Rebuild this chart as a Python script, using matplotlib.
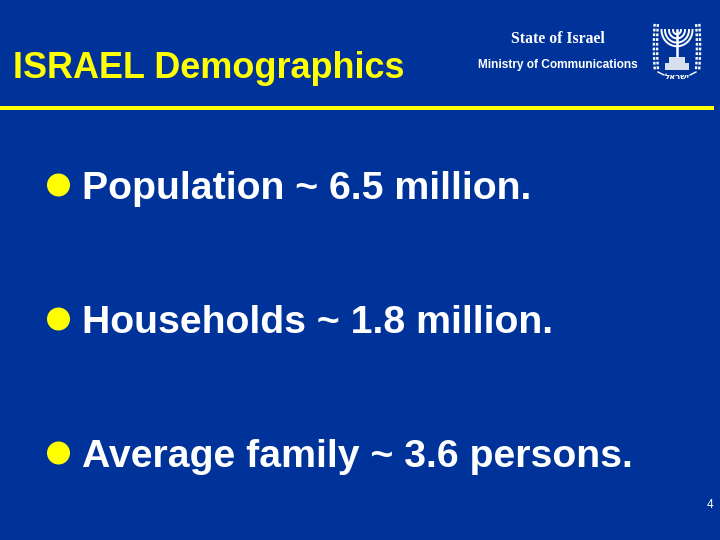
import numpy as np
import matplotlib
matplotlib.use('Agg')
import matplotlib.pyplot as plt
from matplotlib.patches import Circle, Rectangle

title = 'ISRAEL Demographics'
state_label = 'State of Israel'
ministry_label = 'Ministry of Communications'
bullets = ['Population ~ 6.5 million.', 'Households ~ 1.8 million.', 'Average family ~ 3.6 persons.']
page_number = '4'
# drawn left to right by matplotlib, so stored in visual order
emblem_label = 'לארשי'

bg_color = '#003399'
yellow = '#ffff00'
bullet_y = [186, 320, 454]

plt.rcParams['font.family'] = ['Liberation Sans', 'DejaVu Sans']

fig = plt.figure(figsize=(7.2, 5.4), dpi=100, facecolor=bg_color)
ax = fig.add_axes([0, 0, 1, 1])
ax.set_xlim(0, 720)
ax.set_ylim(540, 0)
ax.axis('off')

ax.text(13, 69, title, color=yellow, fontsize=25.9, fontweight='bold', va='center', ha='left')
ax.text(557.5, 39, state_label, color='white', fontsize=11.3, family='Liberation Serif', fontweight='bold',
        va='center', ha='center')
ax.text(557.5, 65, ministry_label, color='white', fontsize=8.6, fontweight='bold', va='center', ha='center')

# Rule under the header
ax.add_patch(Rectangle((0, 106), 714, 4, color=yellow, lw=0))

# Bullets
for label, y in zip(bullets, bullet_y):
    ax.add_patch(Circle((58.5, y - 1), 11.5, color=yellow, lw=0))
    ax.text(82, y + 3, label, color='white', fontsize=28.3, fontweight='bold', va='center', ha='left')

ax.text(713, 505, page_number, color='white', fontsize=8.5, va='center', ha='right')

# Emblem: menorah
cx = 677
for r in [4, 8, 12, 15.5]:
    t = np.linspace(0, np.pi, 30)
    ax.plot(cx + r * np.cos(t), 30 + r * np.sin(t) * 1.05, color='white', lw=1.4)
ax.plot([cx, cx], [30, 56], color='white', lw=1.8)
ax.add_patch(Rectangle((cx - 12, 63), 24, 7, color='#d8e0f0', lw=0))
ax.add_patch(Rectangle((cx - 8, 57), 16, 6, color='#d8e0f0', lw=0))

# Emblem: olive branches and lettering
for side in [-1, 1]:
    ys = np.arange(24, 73, 3.5)
    xs = cx + side * (21.5 - 0.0016 * (ys - 46) ** 2)
    ax.plot(xs, ys, color='white', lw=4, ls=(0, (0.5, 0.35)))
    ax.plot(xs, ys, color=bg_color, lw=0.6)
    ax.plot([cx + side * 19, cx + side * 13], [72, 75], color='white', lw=1)
ax.text(cx, 76.5, emblem_label, color='white', fontsize=6, family='DejaVu Sans', fontweight='bold',
        va='center', ha='center')

fig.savefig('out.png', dpi=100, facecolor=bg_color)
